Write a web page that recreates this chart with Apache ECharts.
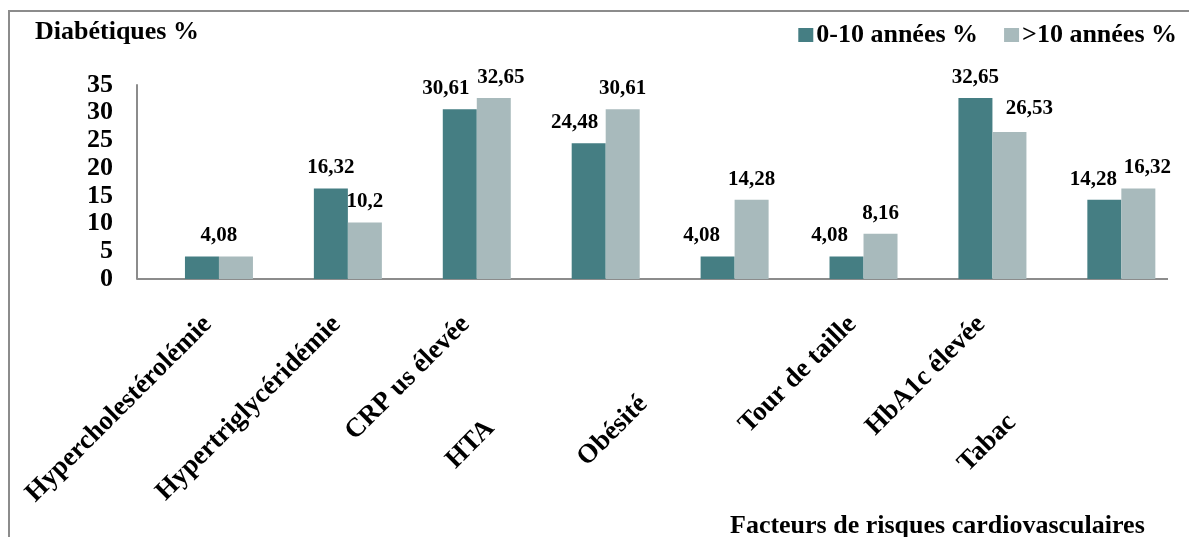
<!DOCTYPE html>
<html>
<head>
<meta charset="utf-8">
<style>
  html, body { margin: 0; padding: 0; background: #ffffff; }
  #chart { width: 1189px; height: 537px; }
</style>
<script src="https://cdn.jsdelivr.net/npm/echarts@6/dist/echarts.min.js"></script>
</head>
<body>
<div id="chart"></div>
<script>
// Risk factors by diabetes duration
const categories = ['Hypercholestérolémie', 'Hypertriglycéridémie', 'CRP us élevée', 'HTA', 'Obésité', 'Tour de taille', 'HbA1c élevée', 'Tabac'];
const seriesNames = ['0-10 années %', '>10 années %'];
const shortDuration = [4.08, 16.32, 30.61, 24.48, 4.08, 4.08, 32.65, 14.28];
const longDuration = [4.08, 10.2, 32.65, 30.61, 14.28, 8.16, 26.53, 16.32];
const yMin = 0, yMax = 35, yStep = 5;
const yTitle = 'Diabétiques %';
const xTitle = 'Facteurs de risques cardiovasculaires';

const FONT = '"Liberation Serif", "Times New Roman", serif';
const DARK = '#457e83';
const LIGHT = '#a8babc';

// small nudges so neighbouring value labels do not collide
const nudgeShort = { 0: [17, 0], 2: [-14, 0], 3: [-14, 0], 4: [-16, 0], 5: [-17, 0], 7: [-11, 0] };
const nudgeLong = { 2: [7, 0], 6: [20, -3], 7: [9, 0] };
const hiddenLong = { 0: true };

// a few category labels sit further down their diagonal
const labelPad = { 3: [0, 163, 24, 0], 4: [0, 129, 23, 0], 7: [0, 155, 21, 0] };

function fmt(v) { return String(v).replace('.', ','); }

function buildData(values, nudges, hidden) {
  return values.map((v, i) => {
    const item = { value: v };
    if (hidden && hidden[i]) item.label = { show: false };
    else if (nudges[i]) item.label = { offset: nudges[i] };
    return item;
  });
}

const valueLabel = {
  show: true,
  position: 'top',
  distance: 10,
  formatter: p => fmt(p.value),
  fontFamily: FONT,
  fontWeight: 'bold',
  fontSize: 21,
  color: '#000'
};

const chart = echarts.init(document.getElementById('chart'));
chart.setOption({
  backgroundColor: '#ffffff',
  animation: false,
  title: [
    { text: yTitle, left: 35, top: 19, padding: 0,
      textStyle: { fontFamily: FONT, fontWeight: 'bold', fontSize: 26, color: '#000' } },
    { text: xTitle, left: 730, top: 513, padding: 0,
      textStyle: { fontFamily: FONT, fontWeight: 'bold', fontSize: 26, color: '#000' } }
  ],
  legend: {
    data: seriesNames,
    right: 12,
    top: 22,
    itemWidth: 15,
    itemHeight: 14,
    itemGap: 26,
    icon: 'rect',
    padding: 0,
    textStyle: { fontFamily: FONT, fontWeight: 'bold', fontSize: 26, color: '#000', padding: [0, 0, 0, -2] }
  },
  grid: { left: 154.5, right: 3.2, top: 85, bottom: 258, containLabel: false },
  xAxis: {
    type: 'category',
    data: categories.map((c, i) => labelPad[i] ? { value: c, textStyle: { padding: labelPad[i] } } : c),
    axisLine: { show: false },
    axisTick: { show: false },
    axisLabel: {
      interval: 0,
      rotate: 45,
      margin: 30,
      padding: [0, 16, 13, 0],
      fontFamily: FONT,
      fontWeight: 'bold',
      fontSize: 27,
      color: '#000'
    },
    splitLine: { show: false }
  },
  yAxis: {
    type: 'value',
    min: yMin,
    max: yMax,
    interval: yStep,
    offset: 17.5,
    axisLine: { show: true, lineStyle: { color: '#8c8c8c', width: 2 } },
    axisTick: { show: false },
    splitLine: { show: false },
    axisLabel: {
      margin: 24,
      fontFamily: FONT,
      fontWeight: 'bold',
      fontSize: 26,
      color: '#000'
    }
  },
  series: [
    {
      name: seriesNames[0],
      type: 'bar',
      data: buildData(shortDuration, nudgeShort),
      barWidth: 34,
      barGap: '0%',
      itemStyle: { color: DARK },
      label: valueLabel
    },
    {
      name: seriesNames[1],
      type: 'bar',
      data: buildData(longDuration, nudgeLong, hiddenLong),
      barWidth: 34,
      barGap: '0%',
      itemStyle: { color: LIGHT },
      label: valueLabel
    }
  ],
  graphic: [
    { type: 'rect', silent: true, shape: { x: 9, y: 11, width: 1400, height: 700 },
      style: { fill: 'none', stroke: '#8c8c8c', lineWidth: 2 } },
    { type: 'line', silent: true, shape: { x1: 137, y1: 279, x2: 1168, y2: 279 },
      style: { stroke: '#8c8c8c', lineWidth: 2 } }
  ]
});
</script>
</body>
</html>
